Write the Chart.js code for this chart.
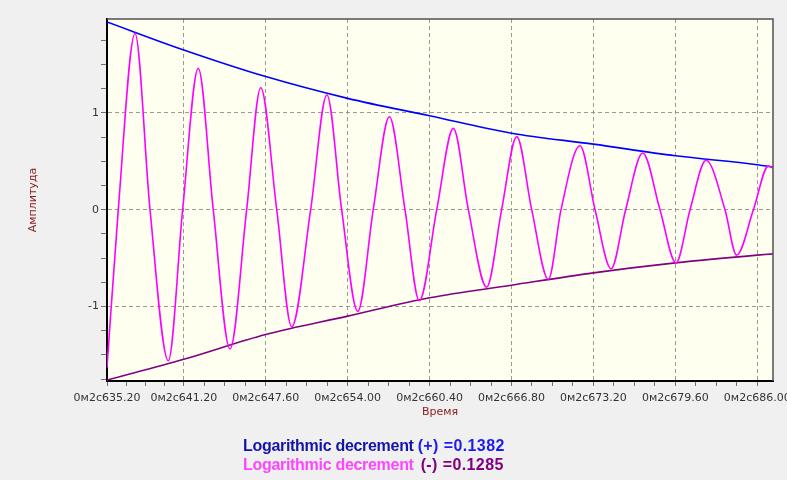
<!DOCTYPE html>
<html>
<head>
<meta charset="utf-8">
<script src="https://cdn.jsdelivr.net/npm/chart.js@4"></script>
<style>
  html, body { margin: 0; padding: 0; background: #f0f0f0; }
  #wrap { position: relative; width: 787px; height: 480px; }
  #legend {
    position: absolute; left: 243px; top: 436px;
    font: bold 16px "Liberation Sans", Arial, sans-serif; line-height: 19px;
    letter-spacing: -0.3px;
    white-space: nowrap;
  }
  #legend .val { margin-left: 4px; letter-spacing: 0.4px; }
</style>
</head>
<body>
<div id="wrap">
  <canvas id="decayChart" width="787" height="480"></canvas>
  <div id="legend">
    <div><span style="color:#1414a8">Logarithmic decrement</span><span class="val" style="color:#1c1cf0">(+) =0.1382</span></div>
    <div><span style="color:#ff44ff">Logarithmic decrement</span><span class="val" style="color:#800080; margin-left:7px">(-) =0.1285</span></div>
  </div>
</div>
<script>
// Signal (time in seconds, amplitude)
const signalTime = [
  635.20, 636.08, 637.39, 638.56, 639.99, 641.11, 642.33, 643.50, 644.81, 646.11,
  647.21, 648.46, 649.63, 651.11, 652.38, 653.53, 654.79, 656.00, 657.26, 658.48,
  659.60, 660.96, 662.26, 663.43, 664.86, 666.03, 667.21, 668.38, 669.68, 670.67,
  672.15, 673.33, 674.58, 675.72, 677.05, 678.40, 679.65, 680.75, 682.00, 683.48,
  684.39, 685.70, 686.87, 687.23
];
const signalAmp = [
  -1.63, 0, 1.82, 0, -1.56, 0, 1.46, 0, -1.44, 0,
  1.26, 0, -1.21, 0, 1.185, 0, -1.05, 0, 0.96, 0,
  -0.94, 0, 0.84, 0, -0.80, 0, 0.755, 0, -0.72, 0,
  0.66, 0, -0.61, 0, 0.585, 0, -0.55, 0, 0.51, 0,
  -0.47, 0, 0.45, 0.43
];

// Envelopes
const envTime = [635.2, 641.2, 647.6, 654.0, 660.4, 666.8, 673.2, 679.6, 686.0, 687.23];
const upperEnv = [1.94, 1.65, 1.375, 1.15, 0.97, 0.79, 0.677, 0.557, 0.465, 0.44];
const lowerEnv = [-1.76, -1.546, -1.29, -1.10, -0.91, -0.78, -0.653, -0.55, -0.47, -0.457];

// Axes
const xMin = 635.2, xMax = 687.23;
const yMin = -1.77, yMax = 1.97;
const xMajorTicks = [635.2, 641.2, 647.6, 654.0, 660.4, 666.8, 673.2, 679.6, 686.0];
const yMajorTicks = [-1, 0, 1];
const yMinorStep = 0.25;
const timePrefix = '0м2с';

function toPoints(xs, ys) {
    return xs.map((x, i) => ({ x: x, y: ys[i] }));
}

function isMajor(list, v) {
    return list.some(m => Math.abs(m - v) < 1e-6);
}

// quarter subdivisions between major ticks
function xTickList() {
    const out = [];
    for (let i = 0; i < xMajorTicks.length; i++) {
        const a = xMajorTicks[i];
        out.push(a);
        const b = i < xMajorTicks.length - 1 ? xMajorTicks[i + 1] : a + (a - xMajorTicks[i - 1]);
        for (let k = 1; k < 4; k++) {
            const v = a + (b - a) * k / 4;
            if (v < xMax) out.push(v);
        }
    }
    return out;
}

function yTickList() {
    const out = [];
    for (let v = -1.75; v <= 1.751; v += yMinorStep) {
        if (v >= yMin && v <= yMax) out.push(Math.round(v * 100) / 100);
    }
    return out;
}

const plotBackground = {
    id: 'plotBackground',
    beforeDraw(chart) {
        const { ctx, chartArea: a } = chart;
        ctx.save();
        ctx.fillStyle = '#f0f0f0';
        ctx.fillRect(0, 0, chart.width, chart.height);
        ctx.fillStyle = '#fffff0';
        ctx.fillRect(a.left, a.top, a.right - a.left, a.bottom - a.top);
        ctx.restore();
    },
    afterDraw(chart) {
        const { ctx, chartArea: a } = chart;
        ctx.save();
        ctx.strokeStyle = '#505050';
        ctx.lineWidth = 1.5;
        ctx.beginPath();
        ctx.moveTo(a.left, a.top);
        ctx.lineTo(a.right, a.top);
        ctx.lineTo(a.right, a.bottom);
        ctx.stroke();
        ctx.restore();
    }
};

const tickFont = { family: 'DejaVu Sans', size: 11 };
const titleFont = { family: 'DejaVu Sans', size: 11 };

new Chart(document.getElementById('decayChart'), {
    type: 'line',
    data: {
        datasets: [
            {
                label: 'signal',
                data: toPoints(signalTime, signalAmp),
                borderColor: '#ff00ff',
                borderWidth: 1.6,
                cubicInterpolationMode: 'monotone',
                pointRadius: 0
            },
            {
                label: 'upper',
                data: toPoints(envTime, upperEnv),
                borderColor: '#0000ff',
                borderWidth: 1.6,
                cubicInterpolationMode: 'monotone',
                pointRadius: 0
            },
            {
                label: 'lower',
                data: toPoints(envTime, lowerEnv),
                borderColor: '#800080',
                borderWidth: 1.6,
                cubicInterpolationMode: 'monotone',
                pointRadius: 0
            }
        ]
    },
    options: {
        responsive: false,
        animation: false,
        layout: { padding: { top: 19, right: 14, left: 0, bottom: 0 } },
        plugins: {
            legend: { display: false },
            tooltip: { enabled: false }
        },
        scales: {
            x: {
                type: 'linear',
                min: xMin,
                max: xMax,
                afterBuildTicks: function(scale) {
                    scale.ticks = xTickList().map(v => ({ value: v }));
                },
                afterFit: function(scale) {
                    scale.height = 99;
                    scale.paddingLeft = 0;
                    scale.paddingRight = 0;
                },
                ticks: {
                    autoSkip: false,
                    maxRotation: 0,
                    padding: 6,
                    color: '#333',
                    font: tickFont,
                    callback: function(value) {
                        return isMajor(xMajorTicks, value) ? timePrefix + value.toFixed(2) : '';
                    }
                },
                grid: {
                    color: ctx => isMajor(xMajorTicks, ctx.tick.value) ? '#999999' : 'rgba(0,0,0,0)',
                    lineWidth: 1,
                    tickLength: 5,
                    tickColor: '#707070',
                    tickBorderDash: []
                },
                border: { color: '#000', width: 2, dash: [4, 3] },
                title: {
                    display: true,
                    text: 'Время',
                    color: '#8b1a1a',
                    font: titleFont,
                    padding: { top: 0, bottom: 61 }
                }
            },
            y: {
                min: yMin,
                max: yMax,
                afterBuildTicks: function(scale) {
                    scale.ticks = yTickList().map(v => ({ value: v }));
                },
                afterFit: function(scale) {
                    scale.width = 107;
                    scale.paddingTop = 0;
                    scale.paddingBottom = 0;
                },
                ticks: {
                    autoSkip: false,
                    padding: 2,
                    color: '#333',
                    font: tickFont,
                    callback: function(value) {
                        return isMajor(yMajorTicks, value) ? String(value) : '';
                    }
                },
                grid: {
                    color: ctx => isMajor(yMajorTicks, ctx.tick.value) ? '#999999' : 'rgba(0,0,0,0)',
                    lineWidth: 1,
                    tickLength: 6,
                    tickColor: '#707070',
                    tickBorderDash: []
                },
                border: { color: '#000', width: 2, dash: [4, 3] },
                title: {
                    display: true,
                    text: 'Амплитуда',
                    color: '#8b1a1a',
                    font: titleFont,
                    padding: { top: 27, bottom: 0 }
                }
            }
        }
    },
    plugins: [plotBackground]
});
</script>
</body>
</html>
